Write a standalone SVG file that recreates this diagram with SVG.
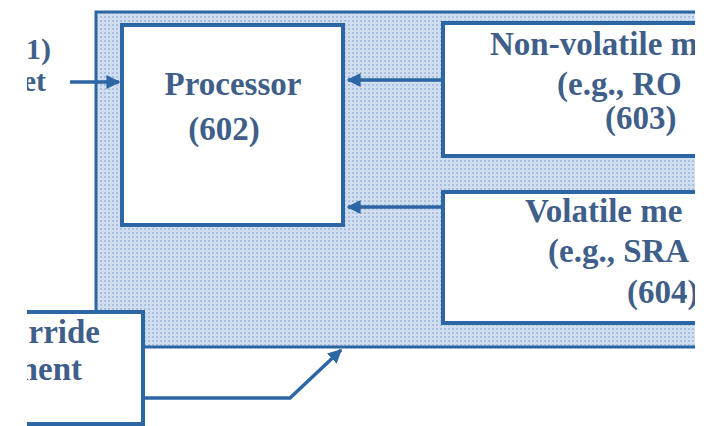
<svg xmlns="http://www.w3.org/2000/svg" width="706" height="426" viewBox="0 0 706 426">
<style>
.box{fill:#ffffff;stroke:#2c66a4;stroke-width:4}
.outer{fill:url(#dots);stroke:#2c66a4;stroke-width:3}
.t{font-family:"Liberation Serif","Times New Roman",serif;font-weight:bold;font-size:33px;fill:#3f5f8a}
.s{font-size:30px}
.c{fill:none;stroke:#2c66a4;stroke-width:3.5}
</style>
<defs>
<pattern id="dots" width="4" height="4" patternUnits="userSpaceOnUse">
<rect width="4" height="4" fill="#d0def0"/>
<rect x="0" y="0" width="2" height="2" fill="#a9c1de"/>
</pattern>
<clipPath id="frame"><rect x="27" y="0" width="668" height="426"/></clipPath>
<marker id="ah" viewBox="0 0 10 10" refX="9" refY="5" markerWidth="4" markerHeight="4" orient="auto" markerUnits="strokeWidth">
<path d="M0,0 L10,5 L0,10 z" fill="#2c66a4"/>
</marker>
</defs>
<rect width="706" height="426" fill="#ffffff"/>
<g clip-path="url(#frame)">
<g id="board">
<rect class="outer" x="96" y="12" width="610" height="335"/>
</g>
<g id="processor">
<rect class="box" x="122" y="25" width="221" height="200"/>
<text class="t" x="233" y="95" text-anchor="middle">Processor</text>
<text class="t" x="224" y="140" text-anchor="middle">(602)</text>
</g>
<g id="nonvolatile">
<rect class="box" x="443" y="23" width="280" height="133"/>
<text class="t" x="490" y="55">Non-volatile m</text>
<text class="t" x="557" y="95">(e.g., RO</text>
<text class="t" x="605" y="129">(603)</text>
</g>
<g id="volatile">
<rect class="box" x="443" y="192" width="280" height="131"/>
<text class="t" x="525" y="222">Volatile me</text>
<text class="t" x="548" y="262">(e.g., SRA</text>
<text class="t" x="627" y="303">(604)</text>
</g>
<g id="override">
<rect class="box" x="-60" y="312" width="203" height="112"/>
<text class="t" x="100" y="343" text-anchor="end">rride</text>
<text class="t" x="82" y="380" text-anchor="end">ment</text>
</g>
<g id="input">
<text class="t s" x="51" y="59" text-anchor="end">1)</text>
<text class="t s" x="46" y="91" text-anchor="end">et</text>
</g>
<g id="connectors">
<line class="c" x1="70" y1="82" x2="119" y2="82" marker-end="url(#ah)"/>
<line class="c" x1="443" y1="80" x2="348" y2="80" marker-end="url(#ah)"/>
<line class="c" x1="443" y1="207" x2="348" y2="207" marker-end="url(#ah)"/>
<polyline class="c" points="143,398 290,398 341,350" marker-end="url(#ah)"/>
</g>
</g>
</svg>
